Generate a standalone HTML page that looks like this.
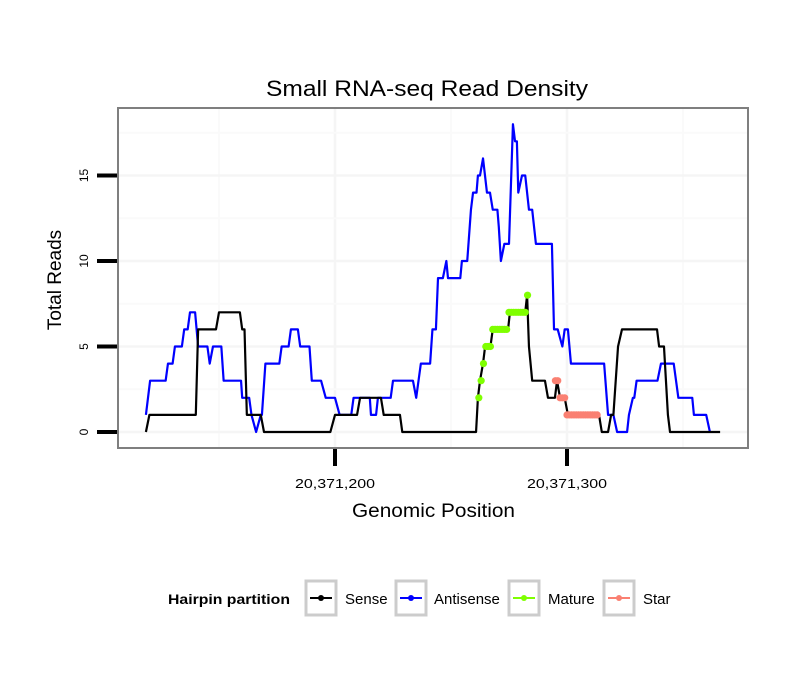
<!DOCTYPE html>
<html><head><meta charset="utf-8"><style>
body{margin:0;background:#fff;}
svg text{font-family:"Liberation Sans",sans-serif;}
</style></head><body>
<svg id="chart" width="810" height="690" xmlns="http://www.w3.org/2000/svg">
<rect x="0" y="0" width="810" height="690" fill="#fff"/>
<text x="266" y="96" font-size="22" textLength="322" lengthAdjust="spacingAndGlyphs">Small RNA-seq Read Density</text>
<g id="grid"></g>
<g id="series"></g>
<rect x="118" y="108" width="630" height="340" fill="none" stroke="#7f7f7f" stroke-width="2"/>
<g id="axes"></g>
<text x="352" y="517" font-size="19" textLength="163" lengthAdjust="spacingAndGlyphs">Genomic Position</text>
<text transform="translate(61,280) rotate(-90)" font-size="19" text-anchor="middle">Total Reads</text>
<g>
<text x="168" y="604" font-size="14" font-weight="bold" textLength="122" lengthAdjust="spacingAndGlyphs">Hairpin partition</text>
<g>
<rect x="306" y="581" width="30" height="34" fill="#fff" stroke="#cccccc" stroke-width="3"/>
<line x1="310" y1="598" x2="332" y2="598" stroke="#000" stroke-width="2"/><circle cx="321" cy="598" r="3" fill="#000"/>
<text x="345" y="604" font-size="15">Sense</text></g>
<g>
<rect x="396" y="581" width="30" height="34" fill="#fff" stroke="#cccccc" stroke-width="3"/>
<line x1="400" y1="598" x2="422" y2="598" stroke="#0000ff" stroke-width="2"/><circle cx="411" cy="598" r="3" fill="#0000ff"/>
<text x="434" y="604" font-size="15">Antisense</text></g>
<g>
<rect x="509" y="581" width="30" height="34" fill="#fff" stroke="#cccccc" stroke-width="3"/>
<line x1="513" y1="598" x2="535" y2="598" stroke="#7fff00" stroke-width="2"/><circle cx="524" cy="598" r="3" fill="#7fff00"/>
<text x="548" y="604" font-size="15">Mature</text></g>
<g>
<rect x="604" y="581" width="30" height="34" fill="#fff" stroke="#cccccc" stroke-width="3"/>
<line x1="608" y1="598" x2="630" y2="598" stroke="#fa8072" stroke-width="2"/><circle cx="619" cy="598" r="3" fill="#fa8072"/>
<text x="643" y="604" font-size="15">Star</text></g>
</g>
</svg>
<script>
// positions are offsets from 20,371,000
const xTickVals = [200, 300];
const xTickLabels = ["20,371,200", "20,371,300"];
const xMinorGrid = [150, 250, 350];
const yTickVals = [0, 5, 10, 15];
const yMinorGrid = [2.5, 7.5, 12.5, 17.5];
const antisensePos = [118.5,120.3,127,128,130,131,134,135,136.5,137.5,139.7,141,145,146,147.4,151,152,159.5,160,163,164,166,168,168.5,170,176,177,180,181,184,185,189,190,194,196,200,202,207,208,215,215.5,217.7,218.5,224,225,233.6,235,237,241,242,243.5,244.4,246.5,248,248.7,254,254.7,257,258.6,259.5,261,261.6,262.5,263.8,265.5,266.8,268,270,270.6,271.5,273,275,276.7,277.6,278.4,279,280.6,282,283.6,285,286.6,293.5,294.4,296,298,299,300.4,301.7,316,317.7,320,321.6,325.9,326.7,328.4,329,330,339,340.5,346,348,354,354.7,360,361.6];
const antisenseVal = [1,3,3,4,4,5,5,6,6,7,7,5,5,4,5,5,3,3,2,2,1,0,1,1,4,4,5,5,6,6,5,5,3,3,2,2,1,1,2,2,1,1,2,2,3,3,2,4,4,6,6,9,9,10,9,9,10,10,13,14,14,15,15,16,14,14,13,13,12,10,11,11,18,17,17,14,15,15,13,13,11,11,6,6,5,6,6,4,4,1,1,0,0,1,2,2,3,3,4,4,2,2,1,1,0];
const sensePos = [118.5,120,140,141,148.7,150,159,160,161,162,168,169.4,198,200,209.5,210.8,219.8,221,228,229,260.8,261.6,262.5,263.8,264.7,267,268,274.6,275.4,282,282.8,283.6,285,290.5,291.8,294.8,295.7,297,299,300.4,313.8,315,317.7,319,320,322,323.7,338.8,339.7,341.8,343.5,344.4,366];
const senseVal = [0,1,1,6,6,7,7,6,6,1,1,0,0,1,1,2,2,1,1,0,0,2,3,4,5,5,6,6,7,7,8,5,3,3,2,2,3,2,2,1,1,0,0,1,1,5,6,6,5,5,1,0,0];
const maturePos = [262,263,264,265,266,267,268,269,270,271,272,273,274,275,276,277,278,279,280,281,282,283];
const matureVal = [2,3,4,5,5,5,6,6,6,6,6,6,6,7,7,7,7,7,7,7,7,8];
const starPos = [295,296,297,298,299,300,301,302,303,304,305,306,307,308,309,310,311,312,313];
const starVal = [3,3,2,2,2,1,1,1,1,1,1,1,1,1,1,1,1,1,1];

const NS="http://www.w3.org/2000/svg";
const X = v => 335 + (v - 200) * 2.32;
const Y = v => 432 - v * 17.1;
function mk(tag, attrs, parent){const e=document.createElementNS(NS,tag);for(const k in attrs)e.setAttribute(k,attrs[k]);parent.appendChild(e);return e;}
const grid=document.getElementById('grid'), series=document.getElementById('series'), axes=document.getElementById('axes');
xMinorGrid.forEach(v=>{const l=mk('line',{x1:X(v),x2:X(v),y1:108,y2:448,stroke:'#fafafa','stroke-width':2},grid);

});
xTickVals.forEach(v=>{const l=mk('line',{x1:X(v),x2:X(v),y1:108,y2:448,stroke:'#f5f5f5','stroke-width':2.5},grid);

});
yMinorGrid.forEach(v=>{const l=mk('line',{x1:118,x2:748,y1:Y(v),y2:Y(v),stroke:'#fafafa','stroke-width':2},grid);

});
yTickVals.forEach(v=>{const l=mk('line',{x1:118,x2:748,y1:Y(v),y2:Y(v),stroke:'#f5f5f5','stroke-width':2.5},grid);

});
function line(pos,val,color,name){const pts=pos.map((p,i)=>X(p)+','+Y(val[i])).join(' ');
const pl=mk('polyline',{points:pts,fill:'none',stroke:color,'stroke-width':2.2,'stroke-linejoin':'round'},series);

}
line(antisensePos,antisenseVal,'#0000ff','antisense-line');
line(sensePos,senseVal,'#000000','sense-line');
function dots(pos,val,color,name){pos.forEach((p,i)=>{const c=mk('circle',{cx:X(p),cy:Y(val[i]),r:3.6,fill:color},series);

});}
dots(maturePos,matureVal,'#7fff00','mature-point');
dots(starPos,starVal,'#fa8072','star-point');
yTickVals.forEach(v=>{const t=mk('line',{x1:97,x2:117,y1:Y(v),y2:Y(v),stroke:'#000','stroke-width':4},axes);


const tx=mk('text',{transform:`translate(88,${Y(v)}) rotate(-90)`,'font-size':12,'text-anchor':'middle'},axes);
tx.textContent=v;

});
xTickVals.forEach((v,i)=>{const t=mk('line',{x1:X(v),x2:X(v),y1:449,y2:466,stroke:'#000','stroke-width':4},axes);


const tx=mk('text',{x:X(v)-40,y:488,'font-size':13,textLength:80,lengthAdjust:'spacingAndGlyphs'},axes);
tx.textContent=xTickLabels[i];

});
</script>
</body></html>
